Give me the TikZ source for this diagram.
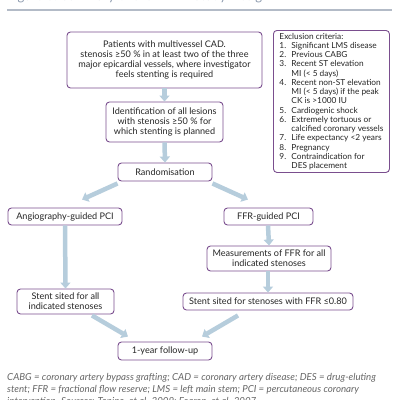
\documentclass[tikz,border=0pt]{standalone}
\usepackage{fontspec}
\setmainfont{Lato}
\usetikzlibrary{arrows.meta,calc}
\definecolor{boxpurple}{HTML}{7A4E8E}
\definecolor{arrowblue}{HTML}{B6CDDC}
\definecolor{rulegray}{HTML}{B3BBC7}
\definecolor{titlegray}{HTML}{8A98AC}
\definecolor{capgray}{HTML}{666666}
\tikzset{
  fbox/.style={draw=boxpurple, line width=0.9pt, rounded corners=3.5pt, fill=white,
    align=center, inner sep=1pt, font=\fontsize{9.1}{10.3}\selectfont, text=black!85},
  arr/.style={draw=arrowblue, line width=4.5pt,
    -{Triangle[width=10pt,length=6pt]}},
}
\newcommand{\exn}[1]{\makebox[12pt][l]{#1}}
\newcommand{\exi}{\hspace*{12pt}}
\begin{document}
\begin{tikzpicture}[x=1pt,y=-1pt]
\useasboundingbox (0,0) rectangle (400,400);
\clip (0,0) rectangle (400,400);
% title (clipped) and rule
\node[anchor=base west, inner sep=0, text=titlegray, font=\fontsize{13}{15}\selectfont] (title) at (7,0.5) {Figure 3: Summary of the FAME Study Design};
\draw[rulegray, line width=2pt] (7,9.5) -- (392,9.5);
% boxes
\node[fbox, minimum width=195pt, minimum height=56pt] (pat) at (164.5,60)
  {Patients with multivessel CAD.\\stenosis ≥50 \% in at least two of the three\\major epicardial vessels, where investigator\\feels stenting is required};
\node[fbox, minimum width=116pt, minimum height=142pt, align=left, anchor=north west,
  font=\fontsize{8.3}{9.25}\selectfont] (excl) at (273,30)
  {Exclusion criteria:\\
  \exn{1.}Significant LMS disease\\
  \exn{2.}Previous CABG\\
  \exn{3.}Recent ST elevation\\
  \exi MI (< 5 days)\\
  \exn{4.}Recent non-ST elevation\\
  \exi MI (< 5 days) if the peak\\
  \exi CK is >1000 IU\\
  \exn{5.}Cardiogenic shock\\
  \exn{6.}Extremely tortuous or\\
  \exi calcified coronary vessels\\
  \exn{7.}Life expectancy <2 years\\
  \exn{8.}Pregnancy\\
  \exn{9.}Contraindication for\\
  \exi DES placement};
\node[fbox, minimum width=117pt, minimum height=40pt] (ident) at (164.5,122)
  {Identification of all lesions\\with stenosis ≥50 \% for\\which stenting is planned};
\node[fbox, minimum width=94pt, minimum height=18pt] (rand) at (165,172) {Randomisation};
\node[fbox, minimum width=114pt, minimum height=17pt] (angio) at (65,216.5) {Angiography-guided PCI};
\node[fbox, minimum width=89pt, minimum height=17pt] (ffr) at (268.5,216.5) {FFR-guided PCI};
\node[fbox, minimum width=124pt, minimum height=25pt] (meas) at (269,258.5) {Measurements of FFR for all\\indicated stenoses};
\node[fbox, minimum width=97pt, minimum height=25pt] (stentl) at (65.5,301.5) {Stent sited for all\\indicated stenoses};
\node[fbox, minimum width=170pt, minimum height=17pt] (stentr) at (268,301.5) {Stent sited for stenoses with FFR ≤0.80};
\node[fbox, minimum width=94pt, minimum height=18pt] (follow) at (165,351) {1-year follow-up};
% arrows
\draw[arr] (pat.south) -- (ident.north);
\draw[arr] (ident.south) -- (rand.north);
\draw[arr] ([xshift=0pt,yshift=-2pt]rand.south west) -- ([xshift=17pt,yshift=8pt]angio.north);
\draw[arr] ([xshift=0pt,yshift=-2pt]rand.south east) -- ([xshift=-20.5pt,yshift=8pt]ffr.north);
\draw[arr] (angio.south) -- (stentl.north);
\draw[arr] ([xshift=-0.5pt]ffr.south) -- (meas.north);
\draw[arr] ([xshift=-1pt]meas.south) -- ([xshift=0pt]stentr.north);
\draw[arr] ([xshift=26.5pt,yshift=-1pt]stentl.south) -- ([xshift=-37pt,yshift=5pt]follow.north);
\draw[arr] ([xshift=-30pt,yshift=-5pt]stentr.south) -- ([xshift=37pt,yshift=5pt]follow.north);
% caption
\node[anchor=north west, inner sep=0, align=left, text=capgray,
  font=\fontsize{9.7}{12}\selectfont\itshape] (cap) at (7,373.5)
  {CABG = coronary artery bypass grafting; CAD = coronary artery disease; DES = drug-eluting\\
   stent; FFR = fractional flow reserve; LMS = left main stem; PCI = percutaneous coronary\\
   intervention. Sources: Tonino, et al. 2009; Fearon, et al. 2007};
\end{tikzpicture}
\end{document}
